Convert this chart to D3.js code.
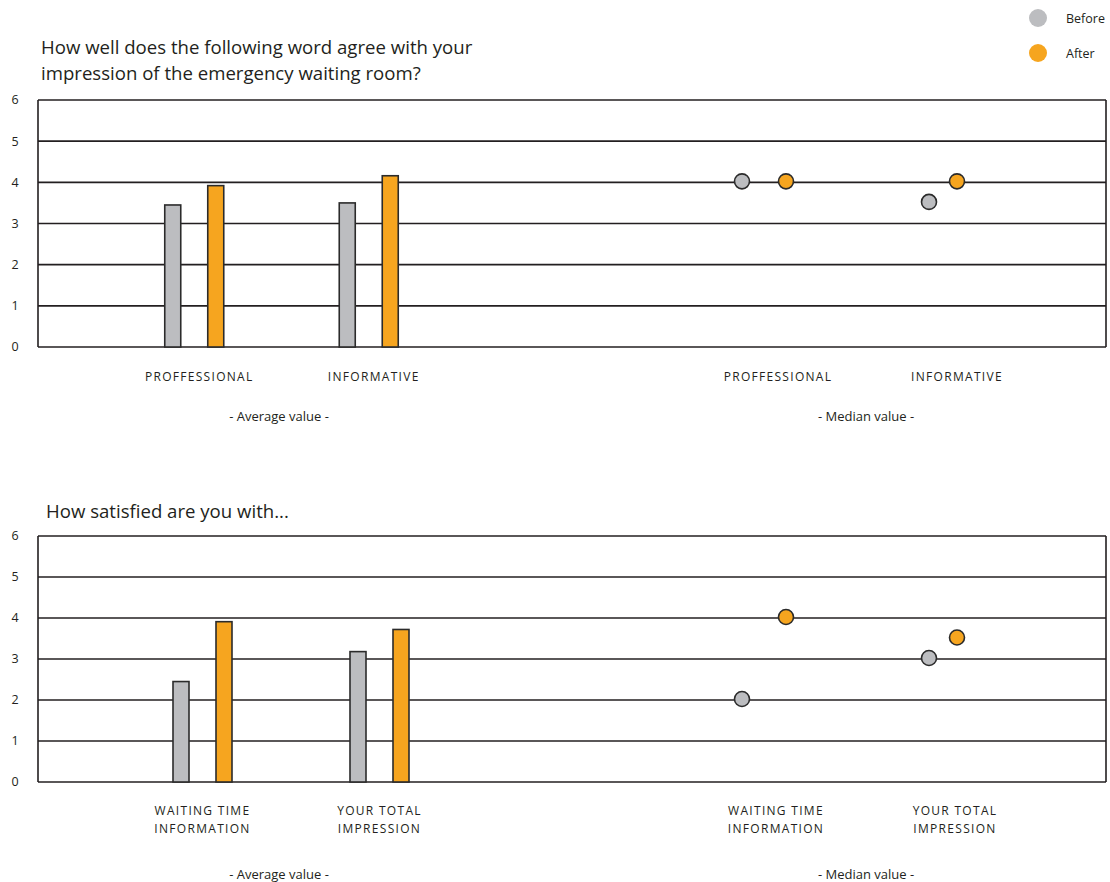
<!DOCTYPE html>
<html>
<head>
<meta charset="utf-8">
<script src="https://cdn.jsdelivr.net/npm/d3@7/dist/d3.min.js"></script>
<style>
  body { margin: 0; background: #fff; }
  svg text { font-family: "Open Sans", sans-serif; fill: #231f20; }
  .title { font-size: 18.6px; }
  .tick-label { font-size: 12.5px; }
  .cat-label { font-size: 12px; letter-spacing: 1.3px; }
  .sub-label { font-size: 13px; }
  .legend-text { font-size: 12.5px; }
</style>
</head>
<body>
<div id="chart"></div>
<script>
// ---- data ----
var seriesNames = ["Before", "After"];
var seriesColors = ["#bcbdc0", "#f6a51f"];
var yTicks = [0, 1, 2, 3, 4, 5, 6];

var q1Title = ["How well does the following word agree with your", "impression of the emergency waiting room?"];
var q1Categories = [["PROFFESSIONAL"], ["INFORMATIVE"]];
var q1AvgBefore = [3.45, 3.50];
var q1AvgAfter = [3.92, 4.16];
var q1MedBefore = [4, 3.5];
var q1MedAfter = [4, 4];

var q2Title = ["How satisfied are you with..."];
var q2Categories = [["WAITING TIME", "INFORMATION"], ["YOUR TOTAL", "IMPRESSION"]];
var q2AvgBefore = [2.45, 3.18];
var q2AvgAfter = [3.91, 3.72];
var q2MedBefore = [2, 3];
var q2MedAfter = [4, 3.5];

var W = 1110, H = 882;
var svg = d3.select("#chart").append("svg")
    .attr("width", W)
    .attr("height", H);

// legend
var legend = svg.append("g").attr("class", "legend");
seriesNames.forEach(function(name, i) {
    legend.append("circle")
        .attr("cx", 1038).attr("cy", 18 + i * 35)
        .attr("r", 9)
        .style("fill", seriesColors[i]);
    legend.append("text")
        .attr("class", "legend-text")
        .attr("x", 1066).attr("y", 19 + i * 35)
        .attr("dy", ".35em")
        .text(name);
});

function drawPanel(opts) {
    var g = svg.append("g");
    var left = 38, right = 1106;

    var y = d3.scaleLinear().domain([0, 6]).range([opts.bottom, opts.top]);

    var avgX = d3.scaleBand().domain(d3.range(opts.categories.length)).range(opts.avgRange);
    var medX = d3.scaleBand().domain(d3.range(opts.categories.length)).range(opts.medRange);

    // title
    g.append("text")
        .attr("class", "title")
        .selectAll("tspan")
        .data(opts.title)
        .enter().append("tspan")
        .attr("x", opts.titleX)
        .attr("y", function(d, i) { return opts.titleY + i * 26; })
        .text(function(d) { return d; });

    // gridlines + frame
    g.selectAll("line.grid")
        .data(yTicks)
        .enter().append("line")
        .attr("class", "grid")
        .attr("x1", left).attr("x2", right)
        .attr("y1", function(d) { return y(d); })
        .attr("y2", function(d) { return y(d); })
        .style("stroke", "#231f20")
        .style("stroke-width", 1.6);

    [left, right].forEach(function(xx) {
        g.append("line")
            .attr("x1", xx).attr("x2", xx)
            .attr("y1", y(0)).attr("y2", y(6))
            .style("stroke", "#231f20")
            .style("stroke-width", 1.6);
    });

    g.selectAll("text.tick-label")
        .data(yTicks)
        .enter().append("text")
        .attr("class", "tick-label")
        .attr("x", 15)
        .attr("y", function(d) { return y(d); })
        .attr("dy", ".35em")
        .attr("text-anchor", "middle")
        .text(function(d) { return d; });

    // bars
    var barW = 16, barOff = 21.5;
    [opts.avgBefore, opts.avgAfter].forEach(function(vals, s) {
        g.selectAll("rect.s" + s)
            .data(vals)
            .enter().append("rect")
            .attr("class", "s" + s)
            .attr("x", function(d, i) {
                return avgX(i) + avgX.bandwidth() / 2 + (s === 0 ? -barOff : barOff) - barW / 2;
            })
            .attr("y", function(d) { return y(d); })
            .attr("width", barW)
            .attr("height", function(d) { return y(0) - y(d); })
            .style("fill", seriesColors[s])
            .style("stroke", "#2b2b2b")
            .style("stroke-width", 1.6);
    });

    // median dots
    var dotOff = [22, 14];
    [opts.medBefore, opts.medAfter].forEach(function(vals, s) {
        g.selectAll("circle.s" + s)
            .data(vals)
            .enter().append("circle")
            .attr("class", "s" + s)
            .attr("cx", function(d, i) {
                return medX(i) + medX.bandwidth() / 2 + (s === 0 ? -dotOff[i] : dotOff[i]);
            })
            .attr("cy", function(d) { return y(d) - 1; })
            .attr("r", 7.5)
            .style("fill", seriesColors[s])
            .style("stroke", "#2b2b2b")
            .style("stroke-width", 1.6);
    });

    // category labels
    [[avgX, opts.avgLabelShift], [medX, opts.medLabelShift]].forEach(function(p) {
        var sc = p[0];
        opts.categories.forEach(function(lines, i) {
            var t = g.append("text")
                .attr("class", "cat-label")
                .attr("text-anchor", "middle");
            lines.forEach(function(line, j) {
                t.append("tspan")
                    .attr("x", sc(i) + sc.bandwidth() / 2 + p[1])
                    .attr("y", opts.labelY + j * 18)
                    .attr("dy", ".35em")
                    .text(line);
            });
        });
    });

    g.append("text")
        .attr("class", "sub-label")
        .attr("x", 279).attr("y", opts.subY)
        .attr("dy", ".35em")
        .attr("text-anchor", "middle")
        .text("- Average value -");
    g.append("text")
        .attr("class", "sub-label")
        .attr("x", 866).attr("y", opts.subY)
        .attr("dy", ".35em")
        .attr("text-anchor", "middle")
        .text("- Median value -");
}

drawPanel({
    title: q1Title, titleX: 41, titleY: 54,
    top: 100, bottom: 347,
    categories: q1Categories,
    avgRange: [107, 456], medRange: [674.5, 1032.5],
    avgLabelShift: 5, medLabelShift: 14,
    avgBefore: q1AvgBefore, avgAfter: q1AvgAfter,
    medBefore: q1MedBefore, medAfter: q1MedAfter,
    labelY: 377, subY: 416
});

drawPanel({
    title: q2Title, titleX: 46, titleY: 518,
    top: 536, bottom: 782,
    categories: q2Categories,
    avgRange: [114, 468], medRange: [674.5, 1032.5],
    avgLabelShift: 0, medLabelShift: 12,
    avgBefore: q2AvgBefore, avgAfter: q2AvgAfter,
    medBefore: q2MedBefore, medAfter: q2MedAfter,
    labelY: 811, subY: 874
});
</script>
</body>
</html>
